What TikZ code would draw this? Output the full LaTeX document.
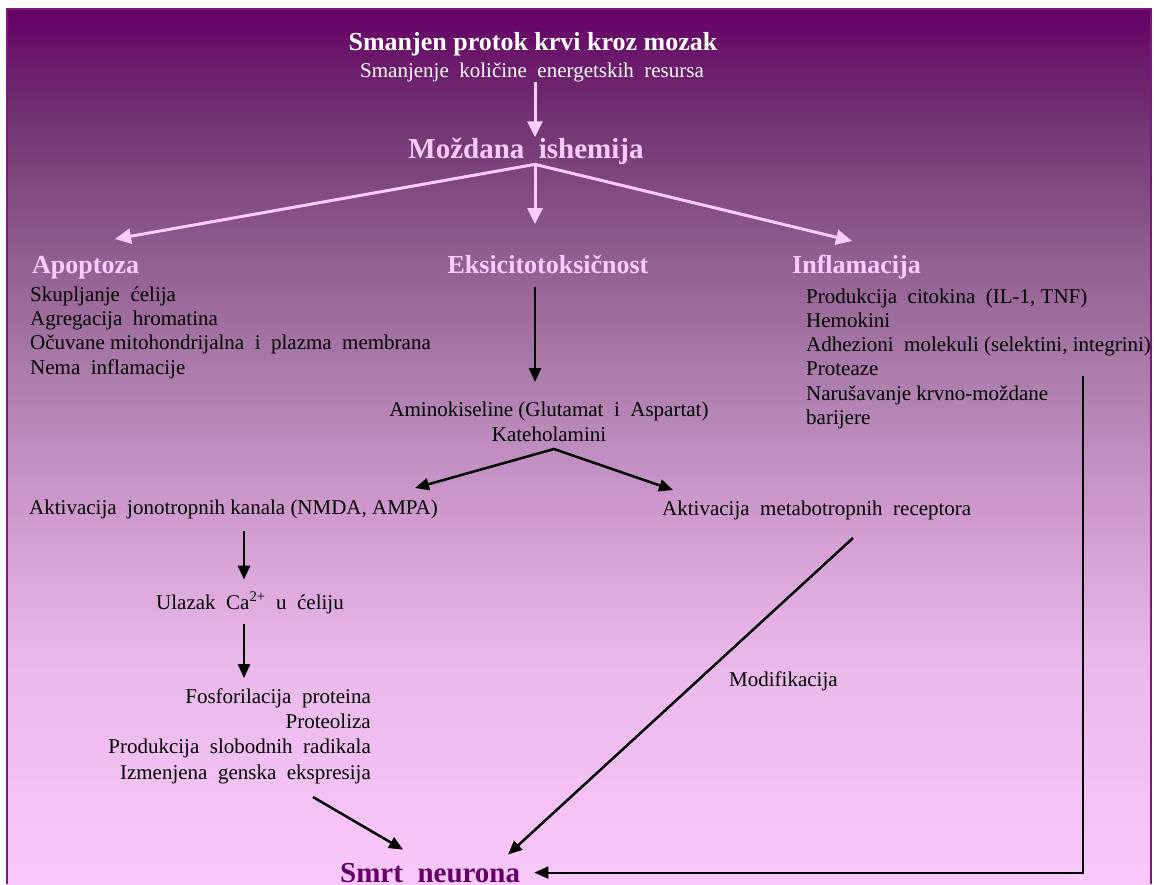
\documentclass[tikz,border=0pt]{standalone}
\usepackage{fontspec}
\setmainfont{Liberation Serif}
\usetikzlibrary{arrows.meta,positioning}
\definecolor{plum}{HTML}{660066}
\definecolor{palepink}{HTML}{FAC8FA}
\definecolor{lilac}{HTML}{FFCCFF}
\definecolor{framepurple}{HTML}{7A1A7A}
\pgfdeclareverticalshading{slidefade}{100bp}{
  color(0bp)=(palepink); color(25bp)=(palepink);
  color(37.8bp)=(rgb,255:red,235;green,184;blue,235);
  color(46.9bp)=(rgb,255:red,204;green,152;blue,204);
  color(53.2bp)=(rgb,255:red,176;green,128;blue,176);
  color(61.8bp)=(rgb,255:red,140;green,90;blue,140);
  color(69.2bp)=(rgb,255:red,112;green,48;blue,112);
  color(75bp)=(plum); color(100bp)=(plum)}

\begin{document}
\begin{tikzpicture}[
  x=1pt, y=-1pt,
  every node/.style={inner sep=0pt},
  toptitle/.style={font=\fontsize{26}{30}\selectfont\bfseries, text=white},
  maintitle/.style={font=\fontsize{29}{33}\selectfont\bfseries, text=lilac},
  branch/.style={font=\fontsize{26}{30}\selectfont\bfseries, text=lilac},
  txt/.style={font=\fontsize{21}{24.3}\selectfont},
  parr/.style={draw=lilac, line width=3pt, -{Triangle[length=16pt, width=15pt]}},
  barr/.style={line width=2.5pt, -{Triangle[length=14pt, width=12pt]}}
]
\useasboundingbox (0,0) rectangle (1154,884);
% background and frame
\shade[shading=slidefade] (7,9) rectangle (1151,884);
\draw[framepurple, line width=1.5pt] (7,884) -- (7,9) -- (1151,9) -- (1151,884);

% top part
\node[toptitle, anchor=base] (flow) at (533,50) {Smanjen protok krvi kroz mozak};
\node[txt, text=white, anchor=base] (energy) at (532,77) {Smanjenje~ količine~ energetskih~ resursa};
\node[maintitle, anchor=base] (ischemia) at (526,158) {Moždana~ ishemija};
\coordinate (fork) at (535,169);

% three branches
\node[branch, anchor=base west] (apoptosis) at (32,273) {Apoptoza};
\node[branch, anchor=base] (excito) at (548,273) {Eksicitotoksičnost};
\node[branch, anchor=base west] (inflam) at (792,273) {Inflamacija};
\coordinate (apopin) at (115,239);
\coordinate (excin) at (535,224);
\coordinate (inflin) at (852,241);

% lists (base = last line)
\node[txt, align=left, anchor=base west] (apoplist) at (30,374)
  {Skupljanje~ ćelija\\Agregacija~ hromatina\\Očuvane mitohondrijalna~ i~ plazma~ membrana\\Nema~ inflamacije};
\node[txt, align=left, anchor=base west] (infllist) at (806,424.5)
  {Produkcija~ citokina~ (IL-1, TNF)\\Hemokini\\Adhezioni~ molekuli (selektini, integrini)\\Proteaze\\Narušavanje krvno-moždane\\barijere};

% excitotoxicity chain
\node[txt, align=center, anchor=base] (amino) at (549,441)
  {Aminokiseline (Glutamat~ i~ Aspartat)\\Kateholamini};
\coordinate (aminoin) at (535,382);
\coordinate (aminofork) at (554,449);
\node[txt, anchor=base west] (ionotropic) at (29,514) {Aktivacija~ jonotropnih kanala (NMDA, AMPA)};
\node[txt, anchor=base west] (metabotropic) at (662,515) {Aktivacija~ metabotropnih~ receptora};
\coordinate (ionoin) at (415,488);
\coordinate (metain) at (673,490);
\node[txt, anchor=base] (calcium) at (250,609) {Ulazak~ Ca\textsuperscript{2+}~ u~ ćeliju};
\node[txt, align=right, anchor=base east, font=\fontsize{21}{25.3}\selectfont] (effects) at (371,779)
  {Fosforilacija~ proteina\\Proteoliza\\Produkcija~ slobodnih~ radikala\\Izmenjena~ genska~ ekspresija};
\node[txt, anchor=base west] (modif) at (729,686) {Modifikacija};

% outcome
\node[font=\fontsize{29}{33}\selectfont\bfseries, text=plum, anchor=base west] (death) at (340,882) {Smrt~ neurona};
\coordinate (effout) at (313,797);
\coordinate (metaout) at (853,538);
\coordinate (infldrop) at (1083,376);

% connectors
\draw[parr] (fork |- energy.south) -- (fork |- ischemia.north);
\draw[parr] (ischemia.south -| fork) -- (apopin);
\draw[parr] (ischemia.south -| fork) -- (excin);
\draw[parr] (ischemia.south -| fork) -- (inflin);
\draw[barr, shorten <=14pt] (excito.south -| aminoin) -- (aminoin);
\draw[barr] (aminofork) -- (ionoin);
\draw[barr] (aminofork) -- (metain);
\draw[barr, shorten <=12pt, shorten >=12pt] (ionotropic.south -| 244,0) -- (calcium.north -| 244,0);
\draw[barr, shorten <=10pt, shorten >=10pt] (calcium.south -| 244,0) -- (effects.north -| 244,0);
\draw[barr] (effout) -- ([xshift=63pt, yshift=13pt]death.north west);
\draw[barr] (metaout) -- ([xshift=168pt, yshift=8pt]death.north west);
\draw[barr, line width=2pt] (infldrop) |- ([xshift=14pt]death.east);
\end{tikzpicture}
\end{document}
